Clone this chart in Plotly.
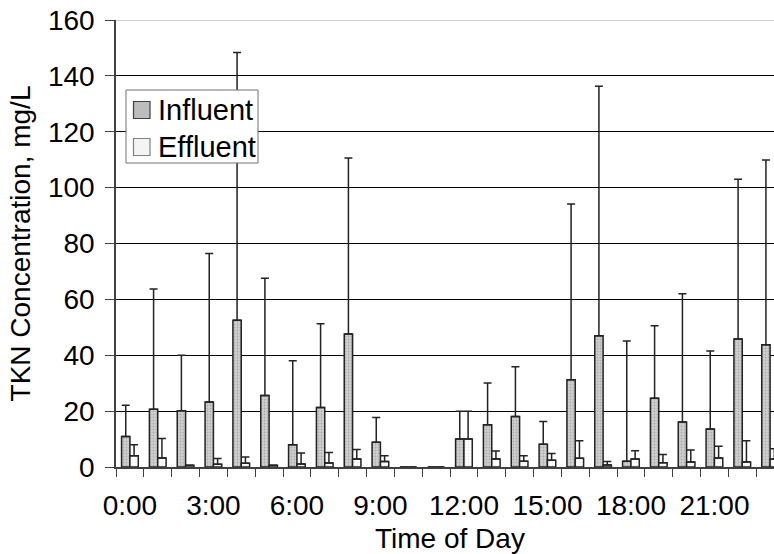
import plotly.graph_objects as go

hours = [f"{h}:00" for h in range(24)]
influent = [10.9, 20.7, 20.1, 23.3, 52.5, 25.6, 8.0, 21.3, 47.6, 8.9, 0, 0,
            10.0, 15.1, 18.1, 8.1, 31.2, 47.0, 2.1, 24.6, 16.1, 13.6, 45.8, 43.8]
influent_top = [22.1, 63.7, 40.0, 76.4, 148.4, 67.6, 38.0, 51.3, 110.6, 17.7, 0, 0,
                20.0, 30.1, 35.9, 16.3, 94.1, 136.3, 45.1, 50.6, 62.0, 41.5, 103.0, 109.9]
effluent = [4.0, 3.2, 0.6, 1.0, 1.3, 0.6, 1.1, 1.4, 2.9, 2.0, 0, 0,
            10.0, 2.9, 2.1, 2.4, 3.1, 0.7, 2.9, 1.5, 1.8, 3.2, 1.8, 2.9]
effluent_top = [8.0, 10.2, 0.6, 3.0, 3.6, 0.6, 5.0, 5.2, 6.3, 4.0, 0, 0,
                20.0, 5.7, 4.0, 4.8, 9.4, 2.0, 5.8, 4.5, 6.1, 7.4, 9.4, 6.5]
tick_hours = list(range(0, 24, 3))
tick_labels = [hours[h] for h in tick_hours]
y_ticks = list(range(0, 161, 20))
series_names = ["Influent", "Effluent"]

x = list(range(24))
inf_err = [t - v for t, v in zip(influent_top, influent)]
eff_err = [t - v for t, v in zip(effluent_top, effluent)]

FONT = "Arial, Liberation Sans, sans-serif"
FS = 28

# plot-area geometry in pixels (for legend placement)
L, R, T, B = 116, 774, 20, 467
def px(xp):
    return (xp - L) / (R - L)
def py(yp):
    return (B - yp) / (B - T)

fig = go.Figure()
fig.add_trace(go.Bar(
    x=x, y=influent, name=series_names[0], showlegend=False,
    marker=dict(color="#c4c4c4", line=dict(color="#222222", width=1.5),
                pattern=dict(shape=".", fgcolor="#8a8a8a", bgcolor="#cfcfcf", size=3, solidity=0.3)),
    error_y=dict(type="data", symmetric=False, array=inf_err, arrayminus=[0]*24,
                 color="#222222", thickness=1.5, width=4),
))
fig.add_trace(go.Bar(
    x=x, y=effluent, name=series_names[1], showlegend=False,
    marker=dict(color="white", line=dict(color="#222222", width=1.5),
                pattern=dict(shape=".", fgcolor="#d0d0d0", bgcolor="white", size=3, solidity=0.2)),
    error_y=dict(type="data", symmetric=False, array=eff_err, arrayminus=[0]*24,
                 color="#222222", thickness=1.5, width=4),
))

fig.add_shape(type="line", xref="paper", yref="y", x0=0, x1=1, y0=160, y1=160,
              line=dict(color="#a0a0a0", width=1))

# legend box drawn as shapes and text
fig.add_shape(type="rect", xref="paper", yref="paper", layer="above",
              x0=px(126), x1=px(258), y0=py(163), y1=py(90),
              fillcolor="white", line=dict(color="#707070", width=1))
legend_items = [(series_names[0], "#bdbdbd", "#404040", 110),
                (series_names[1], "#f4f4f4", "#808080", 147)]
for name, fill, edge, yc in legend_items:
    fig.add_shape(type="rect", xref="paper", yref="paper", layer="above",
                  x0=px(133.5), x1=px(150), y0=py(yc + 8.5), y1=py(yc - 8.5),
                  fillcolor=fill, line=dict(color=edge, width=1.2))
    fig.add_annotation(text=name, xref="paper", yref="paper", x=px(156), y=py(yc),
                       xanchor="left", yanchor="middle", showarrow=False,
                       font=dict(family=FONT, size=29, color="black"))

fig.add_annotation(text="Time of Day", xref="x", yref="paper", x=11.5, y=-0.16,
                   showarrow=False, yanchor="middle",
                   font=dict(family=FONT, size=FS, color="black"))

fig.update_layout(
    width=774, height=554,
    margin=dict(l=L, r=774 - R, t=T, b=554 - B),
    paper_bgcolor="white", plot_bgcolor="white",
    barmode="group", bargap=0.4, bargroupgap=0,
    font=dict(family=FONT, size=FS, color="black"),
    showlegend=False,
    xaxis=dict(range=[-0.5, 23.14], tickmode="array", tickvals=tick_hours, ticktext=tick_labels,
               ticks="outside", ticklen=8, tickcolor="rgba(0,0,0,0)", ticklabelstandoff=5,
               showline=True, linecolor="#404040", linewidth=1.5, showgrid=False, zeroline=False,
               minor=dict(tickmode="linear", tick0=0.5, dtick=1, ticks="outside", ticklen=8,
                          tickcolor="#404040", tickwidth=1, showgrid=False),
               tickfont=dict(family=FONT, size=FS)),
    yaxis=dict(range=[0, 160], tickmode="array", tickvals=y_ticks,
               ticks="outside", ticklen=9, tickcolor="#404040", ticklabelstandoff=5,
               showline=True, linecolor="#404040", linewidth=1.5,
               showgrid=True, gridcolor="black", gridwidth=1, zeroline=False,
               tickfont=dict(family=FONT, size=FS),
               title=dict(text="TKN Concentration, mg/L", font=dict(family=FONT, size=FS), standoff=9)),
)

fig.write_html("out.html", config={"displayModeBar": False},
               post_script="document.body.style.margin='0';document.body.style.overflow='hidden';")
